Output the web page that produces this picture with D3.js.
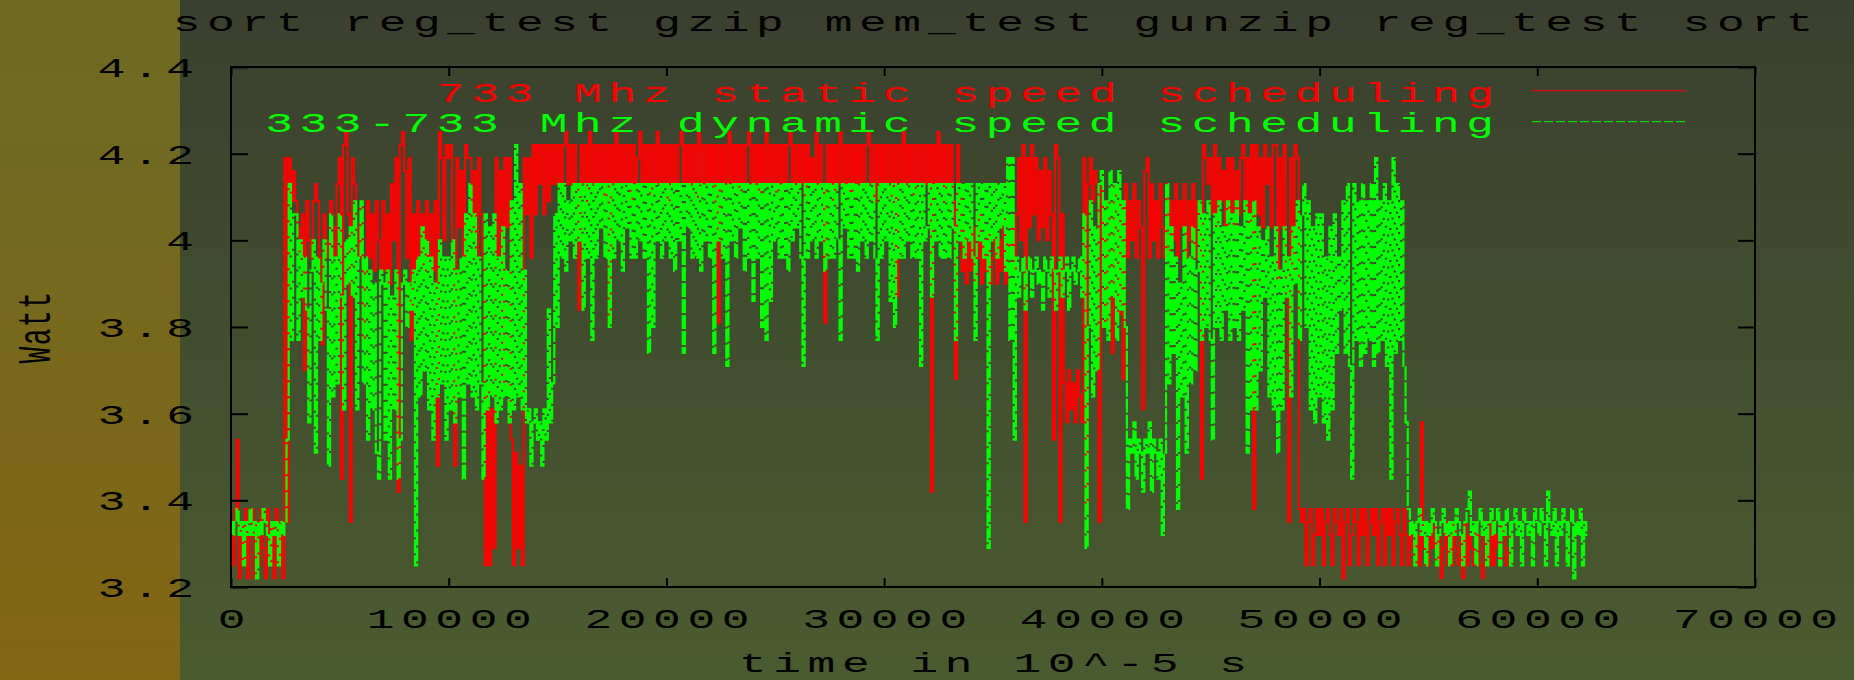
<!DOCTYPE html>
<html>
<head>
<meta charset="utf-8">
<script src="https://cdn.jsdelivr.net/npm/d3@7"></script>
<style>
  html, body { margin: 0; padding: 0; background: #3b412e; }
  svg { display: block; }
</style>
</head>
<body>
<svg id="chart" width="1854" height="680"></svg>
<script>
// ---- chart text ----
const titleText = "sort reg_test gzip mem_test gunzip reg_test sort";
const yAxisLabel = "Watt";
const xAxisLabel = "time in 10^-5 s";
const seriesNames = ["733 Mhz static speed scheduling", "333-733 Mhz dynamic speed scheduling"];

// ---- axes ----
const xTickValues = [0, 10000, 20000, 30000, 40000, 50000, 60000, 70000];
const xTickLabels = ["0", "10000", "20000", "30000", "40000", "50000", "60000", "70000"];
const yTickValues = [3.2, 3.4, 3.6, 3.8, 4.0, 4.2, 4.4];
const yTickLabels = ["3.2", "3.4", "3.6", "3.8", "4", "4.2", "4.4"];

// ---- power readings (W), one every sampleStep time units ----
const sampleStep = 100;

const staticWatts = [
  3.35,3.25,3.38,3.54,3.22,3.35,3.25,3.38,3.22,3.32,
  3.38,3.22,3.35,3.25,3.38,3.29,3.22,3.38,3.25,3.35,
  3.22,3.38,3.25,3.35,3.22,4.19,3.35,4.19,4.09,4.16,
  4.09,4.03,3.96,4.06,3.70,4.09,4.00,3.96,4.09,4.13,
  4.09,3.96,3.76,4.06,4.00,3.96,4.09,4.03,3.96,4.13,
  4.19,3.45,4.22,4.25,4.06,3.35,4.19,4.13,4.03,3.96,
  4.09,3.77,3.93,4.09,3.96,4.06,3.93,4.09,4.00,3.93,
  4.09,3.93,4.06,3.90,4.13,4.00,4.19,3.42,4.22,4.25,
  4.16,3.96,4.19,3.77,4.06,3.93,4.09,3.96,4.06,3.93,
  4.09,3.96,4.06,3.93,4.09,3.48,4.25,4.19,4.00,4.22,
  4.19,4.22,4.00,3.48,4.19,4.03,4.16,3.96,4.22,4.19,
  4.19,4.00,4.16,3.96,4.19,4.06,3.96,3.25,3.67,3.25,
  3.61,3.29,4.19,3.96,4.16,3.67,4.19,4.03,4.19,3.54,
  3.25,3.51,3.29,3.48,3.25,4.19,4.06,4.19,3.96,4.22,
  4.06,4.22,4.13,4.22,4.06,4.22,4.09,4.22,4.13,4.22,
  4.13,4.22,4.13,4.22,4.25,4.13,4.22,4.13,4.22,4.13,
  3.84,4.22,4.13,4.22,4.09,4.25,4.13,4.22,4.13,4.22,
  4.13,4.22,4.09,4.22,3.81,4.22,4.13,4.25,4.13,4.22,
  4.13,4.22,4.13,4.22,4.09,4.22,4.13,4.19,4.25,4.13,
  4.22,4.13,4.22,4.09,4.22,4.13,4.25,4.13,4.22,4.13,
  4.22,4.09,4.22,4.13,4.22,4.13,4.22,4.25,4.13,4.22,
  4.13,4.22,4.13,4.22,4.09,4.25,4.13,4.22,4.13,4.22,
  4.13,4.22,4.09,4.22,3.81,4.22,4.13,4.22,4.13,4.25,
  4.13,4.22,4.13,4.22,4.09,4.22,4.13,4.22,4.25,4.13,
  4.22,4.13,4.22,4.09,4.22,4.13,4.25,4.13,4.22,4.13,
  4.22,4.09,4.22,4.13,4.22,4.13,4.22,4.25,4.13,4.22,
  4.13,4.22,4.13,4.22,4.09,4.22,4.13,4.19,4.13,4.25,
  4.13,4.22,4.13,3.81,4.22,4.13,4.22,4.09,4.22,4.13,
  4.25,4.13,4.22,4.13,4.22,4.09,4.22,4.13,4.22,4.13,
  4.22,4.13,4.22,4.25,4.13,4.22,4.09,4.22,4.13,4.22,
  4.13,4.22,4.13,4.22,4.09,4.22,3.87,4.22,4.13,4.25,
  4.13,4.22,4.13,4.22,4.09,4.22,4.13,4.22,4.13,4.22,
  4.13,4.22,3.42,4.22,4.13,4.25,4.13,4.22,4.09,4.22,
  4.13,4.22,4.09,3.68,4.22,4.13,3.93,4.03,3.90,4.00,
  3.93,4.03,3.90,3.96,4.06,3.90,4.00,3.93,4.03,3.90,
  3.96,4.03,3.90,4.00,3.93,4.06,3.90,4.00,3.96,4.03,
  3.93,4.06,4.19,4.00,4.22,3.35,4.19,4.03,4.22,4.06,
  4.19,4.00,4.16,4.03,4.19,4.00,4.16,4.06,3.54,4.22,
  4.19,3.35,4.06,3.67,3.58,3.70,3.61,3.67,3.58,3.70,
  3.64,3.58,4.19,3.38,4.13,4.19,4.09,4.16,4.13,3.35,
  4.13,4.00,3.80,4.09,3.96,3.74,4.13,4.03,3.83,4.09,
  3.68,4.13,3.96,4.09,4.00,4.13,3.96,4.09,4.03,3.61,
  4.16,4.19,3.96,4.13,4.00,4.09,3.96,4.13,4.03,3.96,
  4.13,3.96,4.09,4.00,4.13,3.96,4.09,4.03,4.13,3.96,
  4.09,4.00,4.13,3.96,4.09,4.03,3.45,4.22,4.19,4.13,
  4.19,4.06,4.22,4.03,4.19,4.09,4.16,4.03,4.19,4.06,
  4.19,4.03,4.16,4.06,4.19,4.22,4.06,4.19,4.03,4.22,
  3.38,4.22,4.06,4.19,4.03,4.22,4.13,4.19,4.03,4.22,
  4.22,3.90,4.19,4.03,4.22,3.87,3.35,4.19,3.93,4.22,
  4.19,3.38,3.35,3.38,3.25,3.35,3.38,3.25,3.32,3.38,
  3.32,3.38,3.25,3.35,3.38,3.32,3.25,3.38,3.35,3.32,
  3.38,3.22,3.35,3.38,3.25,3.32,3.38,3.35,3.25,3.38,
  3.32,3.38,3.25,3.35,3.38,3.32,3.38,3.25,3.35,3.38,
  3.25,3.38,3.32,3.38,3.25,3.35,3.38,3.32,3.25,3.38,
  3.32,3.25,3.35,3.29,3.25,3.32,3.25,3.58,3.29,3.25,
  3.25,3.32,3.29,3.35,3.25,3.32,3.22,3.29,3.35,3.25,
  3.32,3.25,3.35,3.29,3.25,3.32,3.22,3.35,3.25,3.32,
  3.29,3.25,3.35,3.32,3.25,3.22,3.32,3.29,3.25,3.35,
  3.25,3.32,3.29,3.25,3.35,3.32,3.25,3.29,3.32
];

const dynamicWatts = [
  3.35,3.32,3.35,3.38,3.32,3.35,3.25,3.35,3.32,3.38,
  3.32,3.35,3.22,3.35,3.32,3.38,3.35,3.32,3.25,3.35,
  3.32,3.35,3.25,3.35,3.32,3.35,3.54,4.13,3.77,4.06,
  4.06,3.77,4.00,3.87,3.96,3.84,3.58,3.93,4.00,3.51,
  3.96,3.77,3.90,4.00,3.84,3.48,4.06,3.64,3.96,3.67,
  4.06,3.87,3.61,4.00,3.90,4.03,3.87,4.09,3.61,3.96,
  4.09,3.67,3.96,3.54,3.93,3.61,3.90,3.51,3.45,3.93,
  3.90,3.54,3.93,3.45,3.87,3.61,3.93,3.45,3.54,3.90,
  3.93,3.80,3.90,3.84,3.93,3.25,3.96,3.64,4.03,3.70,
  4.00,3.61,3.96,3.54,3.90,3.64,4.00,3.67,3.96,3.54,
  3.96,3.61,4.00,3.58,3.93,3.64,3.96,3.45,4.06,3.67,
  4.13,3.64,4.06,3.61,3.96,3.67,3.45,4.06,3.61,4.03,
  3.64,4.06,3.58,3.96,3.61,4.03,3.64,3.93,3.58,4.09,
  3.61,4.22,3.64,4.13,3.61,3.93,3.58,3.61,3.48,3.58,
  3.61,3.54,3.58,3.48,3.61,3.54,3.84,3.58,3.67,4.06,
  3.80,4.13,3.96,4.13,3.93,4.09,4.00,4.13,3.96,4.13,
  4.00,4.13,3.84,4.13,3.96,4.13,3.77,4.13,3.96,4.13,
  4.03,4.13,3.96,4.13,3.80,4.13,3.96,4.13,4.00,4.13,
  3.93,4.13,4.03,4.13,3.96,4.13,3.96,4.13,4.00,4.13,
  3.96,4.13,3.74,4.13,3.80,4.13,4.00,4.13,3.96,4.13,
  4.00,4.13,3.96,4.13,3.93,4.13,4.00,4.13,3.74,4.13,
  4.03,4.13,3.96,4.13,3.96,4.13,3.93,4.13,4.00,4.13,
  3.96,4.13,3.74,4.13,4.00,4.13,3.96,4.13,3.71,4.13,
  4.00,4.13,3.96,4.13,4.03,4.13,3.93,4.13,3.96,4.13,
  3.86,4.13,3.96,4.13,3.80,4.13,3.77,4.13,3.86,4.13,
  4.00,4.13,3.96,4.13,3.96,4.13,3.93,4.13,4.00,4.13,
  4.03,4.13,3.96,3.71,4.13,3.96,4.13,4.00,4.13,3.96,
  4.13,4.00,4.13,3.93,4.13,3.96,4.13,3.96,4.13,4.00,
  3.77,4.13,4.03,4.13,3.96,4.13,3.96,4.13,3.93,4.13,
  4.00,4.13,3.96,4.13,4.00,4.13,3.96,3.77,4.13,3.96,
  4.13,4.00,4.13,3.86,4.13,3.80,4.13,3.96,4.13,3.96,
  4.13,4.00,4.13,3.96,4.13,3.96,4.13,3.71,4.13,4.00,
  4.03,4.13,3.87,4.13,4.00,4.13,3.96,4.13,3.96,4.13,
  3.96,4.13,4.03,3.77,4.13,4.00,4.13,3.96,4.13,4.00,
  4.13,3.96,3.77,4.13,4.00,4.13,3.96,4.13,3.29,4.13,
  4.00,4.13,3.96,4.13,4.03,4.13,3.93,4.19,3.77,4.19,
  3.54,3.96,3.87,3.93,3.96,3.84,3.93,3.96,3.87,3.93,
  3.96,3.90,3.93,3.84,3.96,3.93,3.87,3.96,3.93,3.84,
  3.93,3.96,3.87,3.93,3.96,3.84,3.93,3.96,3.90,3.93,
  3.96,3.87,4.06,3.29,3.80,4.09,3.64,4.03,3.70,4.13,
  4.16,3.80,4.09,3.77,4.16,3.87,4.13,3.77,4.16,3.84,
  4.09,3.80,3.38,3.54,3.51,3.58,3.45,3.54,3.51,3.42,
  3.54,3.51,3.58,3.42,3.54,3.51,3.45,3.54,3.32,3.51,
  4.13,3.67,4.03,3.74,3.96,3.38,3.90,3.64,4.03,3.51,
  3.96,3.67,4.03,3.70,3.93,4.09,3.77,4.06,3.80,4.09,
  3.77,3.54,4.06,3.80,4.09,3.77,4.03,3.84,4.09,3.77,
  4.06,3.80,4.09,3.77,4.03,3.84,4.09,3.51,4.06,3.61,
  4.09,3.61,4.03,3.70,4.00,3.87,4.03,3.64,3.96,3.61,
  4.03,3.51,3.93,3.61,4.03,3.87,3.96,3.64,4.03,3.90,
  4.09,3.77,4.06,4.13,3.80,4.09,3.61,4.03,3.58,4.06,
  3.64,4.06,3.58,3.96,3.54,4.03,3.61,4.06,3.74,3.96,
  3.84,4.09,3.74,4.13,3.71,3.45,4.13,3.77,4.09,3.71,
  4.13,3.74,4.09,3.77,4.13,3.71,4.19,3.74,4.09,3.77,
  4.13,3.71,4.09,3.45,4.19,3.74,4.13,3.77,4.09,3.71,
  3.58,3.38,3.32,3.35,3.25,3.35,3.38,3.32,3.35,3.25,
  3.35,3.32,3.38,3.35,3.25,3.32,3.35,3.38,3.32,3.35,
  3.25,3.35,3.32,3.38,3.35,3.32,3.25,3.35,3.38,3.42,
  3.32,3.35,3.25,3.35,3.38,3.32,3.35,3.25,3.35,3.38,
  3.32,3.35,3.38,3.25,3.35,3.32,3.38,3.35,3.25,3.35,
  3.38,3.32,3.35,3.25,3.38,3.35,3.32,3.35,3.25,3.38,
  3.35,3.32,3.38,3.35,3.25,3.42,3.35,3.32,3.38,3.25,
  3.35,3.32,3.38,3.35,3.25,3.35,3.38,3.22,3.35,3.32,
  3.38,3.25,3.35,3.32
];

// ---- layout ----
const W = 1854, H = 680;
const plot = { left: 231, right: 1755, top: 67, bottom: 587 };
const FONT = "'Liberation Mono', 'Courier New', monospace";
const FS = 28;       // font size
const SX = 1.65;     // horizontal glyph stretch
const LS = 4;        // letter spacing before stretch

const svg = d3.select("#chart");

// background panels
const defs = svg.append("defs");
const gStrip = defs.append("linearGradient").attr("id", "bgStrip")
  .attr("x1", 0).attr("y1", 0).attr("x2", 0).attr("y2", 1);
gStrip.append("stop").attr("offset", "0%").attr("stop-color", "#6d6a24");
gStrip.append("stop").attr("offset", "100%").attr("stop-color", "#826614");
const gMain = defs.append("linearGradient").attr("id", "bgMain")
  .attr("x1", 0).attr("y1", 0).attr("x2", 0).attr("y2", 1);
gMain.append("stop").attr("offset", "0%").attr("stop-color", "#3a402e");
gMain.append("stop").attr("offset", "100%").attr("stop-color", "#4b5b30");

svg.append("rect").attr("x", 0).attr("y", 0).attr("width", 180).attr("height", H).attr("fill", "url(#bgStrip)");
svg.append("rect").attr("x", 180).attr("y", 0).attr("width", W - 180).attr("height", H).attr("fill", "url(#bgMain)");

defs.append("clipPath").attr("id", "plotClip").append("rect")
  .attr("x", plot.left).attr("y", plot.top)
  .attr("width", plot.right - plot.left).attr("height", plot.bottom - plot.top);

// scales
const x = d3.scaleLinear().domain([0, 70000]).range([plot.left, plot.right]);
const y = d3.scaleLinear().domain([3.2, 4.4]).range([plot.bottom, plot.top]);

// stretched monospace text
function wideText(parent, str, px, py, anchor, fill) {
  let shift = 0;
  if (anchor === "middle") shift = LS * SX / 2;
  if (anchor === "end") shift = LS * SX;
  return parent.append("text")
    .attr("transform", `translate(${px + shift},${py}) scale(${SX},1)`)
    .attr("text-anchor", anchor)
    .attr("font-family", FONT)
    .attr("font-size", FS)
    .attr("letter-spacing", LS)
    .attr("fill", fill || "#000")
    .text(str);
}

function styleTickText(sel, dx, dy, anchor) {
  let shift = 0;
  if (anchor === "middle") shift = LS * SX / 2;
  if (anchor === "end") shift = LS * SX;
  sel.selectAll("text")
    .attr("x", null).attr("y", null).attr("dy", null)
    .attr("transform", `translate(${dx + shift},${dy}) scale(${SX},1)`)
    .attr("text-anchor", anchor)
    .attr("font-family", FONT)
    .attr("font-size", FS)
    .attr("letter-spacing", LS)
    .attr("fill", "#000");
}

function styleTicks(sel) {
  sel.select(".domain").remove();
  sel.selectAll(".tick line").attr("stroke", "#000").attr("stroke-width", 2);
}

// data lines as sample-and-hold traces (static first, dynamic drawn over it)
const line = d3.line()
  .x((d, i) => x(i * sampleStep))
  .y(d => y(d))
  .curve(d3.curveStep);

const plotG = svg.append("g").attr("clip-path", "url(#plotClip)");
plotG.append("path")
  .datum(staticWatts)
  .attr("d", line)
  .attr("fill", "none")
  .attr("stroke", "#ff0000")
  .attr("stroke-width", 2)
  .attr("stroke-linejoin", "miter");
plotG.append("path")
  .datum(dynamicWatts)
  .attr("d", line)
  .attr("fill", "none")
  .attr("stroke", "#00ff00")
  .attr("stroke-width", 2.2)
  .attr("stroke-linejoin", "miter")
  .attr("stroke-dasharray", "14,2");

// axes: inward ticks on all four sides
const xBottom = svg.append("g").attr("transform", `translate(0,${plot.bottom})`)
  .call(d3.axisBottom(x).tickValues(xTickValues).tickSize(-9)
    .tickFormat((d, i) => xTickLabels[i]));
styleTicks(xBottom);
styleTickText(xBottom, 0, 41, "middle");

const xTop = svg.append("g").attr("transform", `translate(0,${plot.top})`)
  .call(d3.axisTop(x).tickValues(xTickValues).tickSize(-9).tickFormat(""));
styleTicks(xTop);

const yLeft = svg.append("g").attr("transform", `translate(${plot.left},0)`)
  .call(d3.axisLeft(y).tickValues(yTickValues).tickSize(-17)
    .tickFormat((d, i) => yTickLabels[i]));
styleTicks(yLeft);
styleTickText(yLeft, -37, 9.5, "end");

const yRight = svg.append("g").attr("transform", `translate(${plot.right},0)`)
  .call(d3.axisRight(y).tickValues(yTickValues).tickSize(-17).tickFormat(""));
styleTicks(yRight);

// frame
svg.append("rect")
  .attr("x", plot.left).attr("y", plot.top)
  .attr("width", plot.right - plot.left).attr("height", plot.bottom - plot.top)
  .attr("fill", "none").attr("stroke", "#000").attr("stroke-width", 2);

// title and axis labels
const cx = (plot.left + plot.right) / 2;
wideText(svg, titleText, cx, 31, "middle");
wideText(svg, xAxisLabel, cx, 672, "middle");
svg.append("text")
  .attr("transform", `translate(50,327) scale(${SX},1) rotate(-90)`)
  .attr("text-anchor", "middle")
  .attr("font-family", FONT)
  .attr("font-size", FS)
  .attr("letter-spacing", 1.5)
  .attr("fill", "#000")
  .text(yAxisLabel);

// legend
const legendColors = ["#ff0000", "#00ff00"];
const legendRows = [101.7, 132];
const legendLineY = [90.7, 121.7];
seriesNames.forEach((name, i) => {
  wideText(svg, name, 1494, legendRows[i], "end", legendColors[i]);
  svg.append("line")
    .attr("x1", 1532).attr("x2", 1686)
    .attr("y1", legendLineY[i]).attr("y2", legendLineY[i])
    .attr("stroke", legendColors[i])
    .attr("stroke-width", 1)
    .attr("stroke-dasharray", i === 1 ? "9,3" : null);
});
</script>
</body>
</html>
